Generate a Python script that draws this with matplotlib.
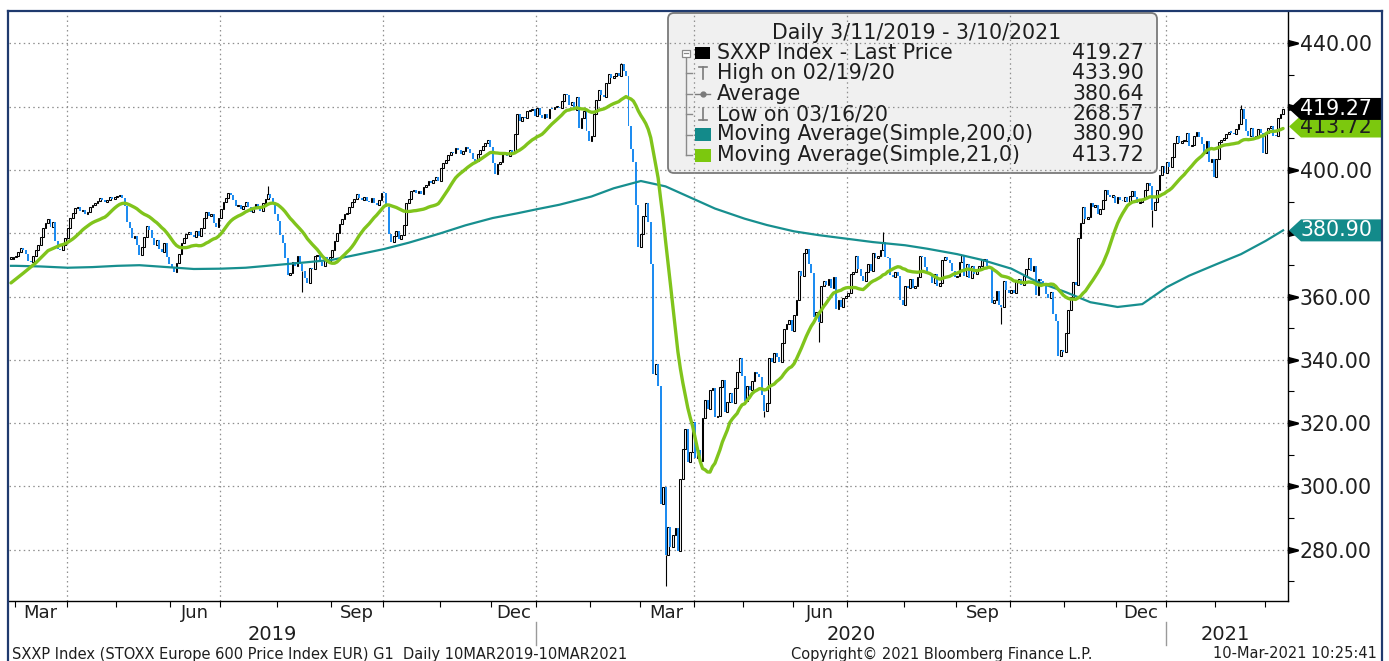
import numpy as np
import pandas as pd
import matplotlib
matplotlib.use("Agg")
import matplotlib.pyplot as plt
import matplotlib.transforms as mtransforms
from matplotlib.patches import Polygon, Rectangle, FancyBboxPatch
from matplotlib.lines import Line2D
from matplotlib.path import Path

plt.rcParams['font.family'] = ['DejaVu Sans']

# ---------------------------------------------------------------- data
HOLIDAYS = ["2019-04-19", "2019-04-22", "2019-05-01", "2019-12-24", "2019-12-25",
            "2019-12-26", "2019-12-31", "2020-01-01", "2020-04-10", "2020-04-13",
            "2020-05-01", "2020-12-24", "2020-12-25", "2020-12-31", "2021-01-01"]
LAST_DATE = "2021-03-10"

# daily closes, quarter by quarter
close_2019_q1 = [372.0, 372.5,
                 372.8, 374.0, 375.2, 374.6, 373.5, 371.2, 370.8, 372.8, 374.6, 376.2,
                 378.8, 381.5, 383.2, 384.5, 382.0, 383.4, 377.5, 375.0, 374.6, 376.2, 378.6]
close_2019_q2 = [381.5, 384.8, 386.4, 387.9, 388.3, 386.9, 387.4, 386.2, 386.8, 388.4,
                 389.0, 389.6, 390.2, 391.0, 390.4, 389.8, 390.6, 391.3, 390.8, 391.5,
                 391.8, 392.2, 391.0, 388.5, 383.6, 381.5, 378.5, 379.2, 376.4, 373.0, 375.8,
                 378.8, 382.2, 381.0, 378.5, 376.2, 377.8, 375.0, 374.2, 376.8, 372.6, 370.4,
                 369.0, 367.8, 370.5, 373.4, 376.8, 378.6, 379.8, 380.4, 379.4, 378.8,
                 380.8, 379.2, 381.6, 384.8, 386.6, 385.4, 386.2, 383.2, 382.0, 384.8]
close_2019_q3 = [387.6, 389.8, 391.0, 392.6, 392.0, 390.4, 388.7, 389.0, 387.6, 388.6, 389.9,
                 388.4, 386.8, 387.9, 389.2, 388.2, 387.0, 389.4, 390.8, 392.4, 391.0, 389.2, 386.0,
                 384.0, 379.5, 377.0, 372.2, 366.8, 367.5, 370.8, 369.6, 372.8, 370.4, 368.2,
                 366.0, 364.4, 369.0, 368.8, 372.8, 373.2, 370.8, 369.8, 372.5, 371.0, 372.4,
                 374.8, 377.4, 380.2, 382.8, 384.6, 386.0, 386.4, 388.2, 389.8, 390.8, 392.4,
                 391.2, 390.6, 391.4, 390.2, 389.8, 391.0, 389.5, 388.8, 390.6, 392.8]
close_2019_q4 = [392.6, 388.4, 379.6, 377.2, 379.0, 380.6, 378.2, 379.4, 382.6, 389.6, 390.8,
                 393.2, 393.6, 392.8, 393.4, 392.4, 394.6, 395.2, 396.4, 396.0, 396.8, 397.8, 396.6,
                 400.6, 402.2, 403.0, 404.8, 405.6, 405.2, 406.8, 406.2, 405.0, 406.0, 407.4,
                 406.6, 405.4, 403.6, 402.8, 405.0, 406.2, 407.6, 408.4, 409.6, 407.2,
                 402.2, 398.6, 401.8, 402.4, 405.4, 405.0, 404.4, 406.2, 405.8, 411.4, 417.8,
                 415.4, 416.8, 416.4, 418.6, 418.9, 419.4, 417.0]
close_2020_q1 = [419.6, 417.2, 416.5, 417.8, 416.4, 419.4, 419.2, 419.8, 420.0, 419.6, 421.8,
                 424.0, 423.6, 420.6, 421.4, 418.8, 423.2, 413.4, 416.4, 418.6, 412.2, 409.0,
                 410.8, 417.6, 422.0, 425.4, 423.6, 423.0, 427.4, 430.4, 429.0, 429.8, 430.6,
                 429.6, 433.6, 431.4, 429.6, 414.0, 406.6, 402.6, 389.0, 375.8,
                 379.6, 385.4, 389.4, 383.6, 370.2, 335.6, 338.8, 331.6, 294.4, 299.8, 278.4,
                 287.2, 280.8, 284.6, 286.8, 279.6, 302.4, 311.8, 318.2, 307.6, 310.8, 320.4]
close_2020_q2 = [309.0, 311.4, 308.0, 321.6, 327.2, 324.4, 330.6, 331.0, 322.0, 322.2, 331.4,
                 333.6, 323.4, 326.8, 329.4, 326.4, 331.2, 336.2, 340.6, 334.8,
                 327.0, 331.8, 330.6, 333.4, 336.2, 335.6, 334.6, 329.0, 323.8, 326.4, 340.6,
                 339.2, 342.2, 341.0, 339.4, 345.4, 349.8, 351.4, 352.6, 349.2,
                 354.2, 359.0, 368.2, 366.6, 373.6, 375.0, 370.2, 367.4, 353.4, 355.2, 351.8,
                 363.2, 364.8, 363.6, 365.4, 362.6, 366.2, 356.2, 358.8, 356.6, 359.4, 360.2]
close_2020_q3 = [361.2, 367.2, 367.8, 372.8, 368.6, 366.4, 364.8, 367.6, 370.4, 368.2, 373.8,
                 372.2, 372.8, 374.6, 377.2, 372.6, 372.2, 366.8, 366.2, 367.8, 366.6, 358.8, 357.2,
                 363.4, 362.6, 365.4, 362.8, 363.4, 366.2, 372.8, 372.4, 369.4, 367.0, 367.2,
                 364.2, 367.0, 363.4, 364.4, 371.6, 372.6, 371.4, 370.6, 368.2, 366.2,
                 366.4, 370.8, 373.0, 366.6, 370.2, 365.8, 369.6, 367.2, 368.4, 369.8, 371.4,
                 372.0, 369.8, 369.4, 357.8, 358.8, 361.6, 357.2, 356.8, 364.8, 362.2, 361.0]
close_2020_q4 = [362.0, 361.2, 364.6, 365.4, 363.8, 366.4, 368.6, 372.2, 368.2, 369.6, 360.4,
                 365.6, 365.0, 363.2, 360.8, 359.6, 361.4, 354.6, 352.2, 341.2, 343.0, 342.4,
                 348.4, 355.8, 360.0, 364.6, 363.8, 378.6, 383.2, 388.2, 384.6, 385.2, 389.4,
                 388.4, 389.0, 386.2, 387.8, 390.4, 393.6, 392.2, 391.6, 391.8, 389.4,
                 391.4, 390.6, 390.2, 391.6, 389.8, 391.8, 393.4, 391.6, 389.4, 389.8, 390.8,
                 393.8, 395.8, 395.0, 387.2, 390.0, 393.8, 398.4, 401.4, 399.0]
close_2021_q1 = [402.4, 400.8, 404.2, 408.4, 410.6, 408.6, 409.0, 409.2, 411.8, 407.6, 407.8,
                 410.6, 412.0, 410.4, 408.2, 405.4, 409.0, 402.4, 403.6, 397.8,
                 403.4, 408.8, 409.4, 410.0, 411.4, 412.0, 411.8, 411.2, 412.8, 414.6, 419.2,
                 416.0, 412.4, 410.8, 413.2, 410.4, 410.8, 413.0, 411.6, 405.2,
                 411.8, 413.2, 414.0, 410.8, 410.6, 416.4, 417.8, 419.27]

# visible wick extremes
wick_high = {"2020-02-19": 433.90, "2020-07-21": 380.4, "2021-02-15": 420.5,
             "2019-07-26": 395.0}
wick_low = {"2020-03-16": 268.57, "2019-08-15": 361.5, "2020-05-14": 322.0,
            "2020-09-25": 351.4, "2020-12-21": 382.0, "2020-06-15": 345.6}

# 21-day MA at the very start (needs history before the window)
ma21_head_dates = ["2019-02-27", "2019-03-06", "2019-03-13", "2019-03-20"]
ma21_head_values = [364.3, 367.4, 370.6, 374.5]

# 200-day MA
ma200_dates = ["2019-02-27", "2019-03-01", "2019-03-15", "2019-04-01", "2019-04-15", "2019-05-02",
               "2019-05-15", "2019-06-03", "2019-06-14", "2019-07-01", "2019-07-15", "2019-08-01",
               "2019-08-15", "2019-09-02", "2019-09-16", "2019-10-01", "2019-10-15", "2019-11-01",
               "2019-11-15", "2019-12-02", "2019-12-16",
               "2020-01-02", "2020-01-15", "2020-02-03", "2020-02-14", "2020-03-02", "2020-03-16",
               "2020-04-01", "2020-04-15", "2020-05-04", "2020-05-15", "2020-06-01", "2020-06-15",
               "2020-07-01", "2020-07-15", "2020-08-03", "2020-08-14", "2020-09-01", "2020-09-15",
               "2020-10-01", "2020-10-15", "2020-11-02", "2020-11-16", "2020-12-01", "2020-12-15",
               "2021-01-04", "2021-01-15", "2021-02-01", "2021-02-15", "2021-03-01", "2021-03-10"]
ma200_values = [369.7, 369.7, 369.5, 369.1, 369.3, 369.7, 369.9, 369.2, 368.7, 368.8, 369.1,
                370.0, 370.7, 371.6, 373.2, 375.0, 377.0, 380.0, 382.5, 384.8, 386.3,
                387.6, 389.0, 391.6, 394.2, 396.5, 394.8, 390.6, 387.8, 384.6, 382.6, 380.6,
                379.4, 378.2, 377.2, 376.2, 375.1, 373.4, 371.6, 368.8, 364.8, 361.4, 358.2,
                356.7, 357.6, 363.0, 366.6, 370.2, 373.4, 377.6, 380.9]

legend_title = "Daily 3/11/2019 - 3/10/2021"
legend_labels = ["SXXP Index - Last Price", "High on 02/19/20", "Average",
                 "Low on 03/16/20", "Moving Average(Simple,200,0)", "Moving Average(Simple,21,0)"]
legend_values = ["419.27", "433.90", "380.64", "268.57", "380.90", "413.72"]
tag_values = [380.90, 413.72, 419.27]
y_ticks = [280, 300, 320, 340, 360, 380, 400, 420, 440]
y_minor_ticks = [270, 290, 310, 330, 350, 370, 390, 410, 430]
footer_left = "SXXP Index (STOXX Europe 600 Price Index EUR) G1  Daily 10MAR2019-10MAR2021"
footer_mid = "Copyright\u00a9 2021 Bloomberg Finance L.P."
footer_right = "10-Mar-2021 10:25:41"

# ---------------------------------------------------------------- styles
W, H = 1389, 661
BLUE = "#1e8cf0"
GREEN = "#80c41c"
TEAL = "#178f8f"
TEAL_TAG = "#138a8a"
GREEN_TAG = "#7cc80e"
NAVY = "#1f3a6e"
TXT = "#1e1e1e"
GRID = "#8f8f8f"
FS = 14.8

close = np.array(close_2019_q1 + close_2019_q2 + close_2019_q3 + close_2019_q4 +
                 close_2020_q1 + close_2020_q2 + close_2020_q3 + close_2020_q4 +
                 close_2021_q1, dtype=float)
n = len(close)
dates = pd.bdate_range(end=LAST_DATE, periods=n, freq="C", holidays=HOLIDAYS)
idx = np.arange(n)


def loc(d):
    return int(dates.searchsorted(pd.Timestamp(d)))


fig = plt.figure(figsize=(W / 100, H / 100), dpi=100)
fig.patch.set_facecolor("white")
ax = fig.add_axes([9 / W, 1 - 601 / H, (1288 - 9) / W, (601 - 12) / H])
ax.set_facecolor("white")
ax.set_xlim(-0.8, n + 1.0)
ax.set_ylim(263.8, 449.9)
ID = mtransforms.IdentityTransform()

# gridlines
for v in y_ticks:
    ax.axhline(v, color=GRID, lw=0.9, ls=(0, (1.2, 2.6)), zorder=1)
months = dates.to_period("M")
starts = np.flatnonzero(np.r_[True, months[1:] != months[:-1]])[1:]
qstarts = [s for s in starts if dates[s].month in (1, 4, 7, 10)]
for s in qstarts:
    ax.axvline(s - 0.5, color=GRID, lw=0.9, ls=(0, (1.2, 2.6)), zorder=1)

# candles
opens = np.r_[close[0], close[:-1]]
up = close >= opens
bottom = np.minimum(opens, close)
height = np.maximum(np.abs(close - opens), 0.35)
for d, h in wick_high.items():
    i = loc(d)
    ax.vlines(i, max(opens[i], close[i]), h, color="black", lw=0.8, zorder=2.9)
for d, lo in wick_low.items():
    i = loc(d)
    ax.vlines(i, lo, min(opens[i], close[i]), color="black", lw=0.8, zorder=2.9)
ax.bar(idx[up], height[up], bottom=bottom[up], width=0.72, facecolor="#f4f4f4",
       edgecolor="black", linewidth=0.75, zorder=3)
ax.bar(idx[~up], height[~up], bottom=bottom[~up], width=0.8, color=BLUE,
       linewidth=0, zorder=3)

# moving averages
ma200_x = [loc(d) for d in ma200_dates]
ax.plot(ma200_x, ma200_values, color=TEAL, lw=1.6, zorder=4, solid_joinstyle="round")
ma21 = pd.Series(close).rolling(21).mean().to_numpy()
ma21_x = [loc(d) for d in ma21_head_dates] + list(idx[20:])
ma21_y = list(ma21_head_values) + list(ma21[20:])
ax.plot(ma21_x, ma21_y, color=GREEN, lw=2.4, zorder=5, solid_joinstyle="round",
        solid_capstyle="round")

# spines
for sp in ("left", "top"):
    ax.spines[sp].set_visible(False)
ax.spines["bottom"].set_color("black")
ax.spines["bottom"].set_linewidth(1.0)
ax.spines["right"].set_color("black")
ax.spines["right"].set_linewidth(1.0)

# x ticks (month starts)
ax.set_xticks(starts - 0.5)
ax.set_xticklabels([])
ax.tick_params(axis="x", length=4, width=0.8, direction="out", color="black")

# month / year labels
xpix = mtransforms.blended_transform_factory(ax.transData, ID)
for p in months.unique():
    sel = idx[months == p]
    if p.month in (3, 6, 9, 12) and len(sel) >= 15:
        ax.text(sel.mean(), H - 613, p.strftime("%b"), transform=xpix, ha="center",
                va="center", fontsize=13, color=TXT, clip_on=False)
years = dates.year
for yv in np.unique(years):
    sel = idx[years == yv]
    ax.text(sel.mean(), H - 634, str(yv), transform=xpix, ha="center", va="center",
            fontsize=14, color=TXT, clip_on=False)
for s in starts:
    if dates[s].month == 1:
        ax.add_line(Line2D([s - 0.5, s - 0.5], [H - 622, H - 645], transform=xpix,
                           color="#9a9a9a", lw=1.0, clip_on=False))

# right y axis
ax.yaxis.tick_right()
ax.set_yticks(y_ticks)
ax.set_yticklabels(["" if min(abs(v - t) for t in tag_values) < 4.5 else f"{v:.2f}"
                    for v in y_ticks])
ax.set_yticks(y_minor_ticks, minor=True)
ax.tick_params(axis="y", which="major", length=0, pad=8.5, labelsize=FS, labelcolor=TXT)
ax.tick_params(axis="y", which="minor", length=4, width=0.8, direction="out",
               color="black")
wedge = Path([(0, 0.30), (1, 0.04), (1, -0.04), (0, -0.30), (0, 0.30)])
ax.plot([1.0] * len(y_ticks), y_ticks, transform=ax.get_yaxis_transform(), ls="none",
        marker=wedge, markersize=14, color="black", clip_on=False, zorder=6)

# value tags on the right
yx = ax.get_yaxis_transform()
fx = lambda px: (px - 9) / (1288 - 9)
half = 11 / 3.165
tag_specs = [(tag_values[0], TEAL_TAG, "white"), (tag_values[1], GREEN_TAG, TXT),
             (tag_values[2], "black", "white")]
for k, (v, fc, tc) in enumerate(tag_specs):
    poly = Polygon([(fx(1289), v), (fx(1301), v + half), (fx(1381), v + half),
                    (fx(1381), v - half), (fx(1301), v - half)], closed=True,
                   transform=yx, facecolor=fc, edgecolor="none", clip_on=False,
                   zorder=10 + k)
    ax.add_patch(poly)
    ax.text(fx(1300), v, f"{v:.2f}", transform=yx, ha="left", va="center",
            fontsize=FS, color=tc, clip_on=False, zorder=10.5 + k)

# legend box
box = FancyBboxPatch((668, H - 173), 489, 160, boxstyle="round,pad=0,rounding_size=6",
                     transform=ID, facecolor="#f0f0f0", edgecolor="#7a7a7a", lw=1.3,
                     zorder=0.8, clip_on=False)
ax.add_patch(box)
ax.text(917, H - 33, legend_title, transform=ID, ha="center", va="center", fontsize=FS,
        color=TXT, zorder=7)
rows = [53, 73, 93.5, 114, 134.5, 155]
for r, lab, val in zip(rows, legend_labels, legend_values):
    ax.text(717, H - r, lab, transform=ID, ha="left", va="center", fontsize=FS,
            color=TXT, zorder=7)
    ax.text(1144, H - r, val, transform=ID, ha="right", va="center", fontsize=FS,
            color=TXT, zorder=7)
TREE = "#8a8a8a"
ax.add_line(Line2D([685.5, 685.5], [H - 56, H - rows[-1]], transform=ID, color=TREE,
                   lw=1.0, zorder=7))
for r in rows[1:]:
    ax.add_line(Line2D([685.5, 692], [H - r, H - r], transform=ID, color=TREE, lw=1.0,
                       zorder=7))
ax.add_patch(Rectangle((681.5, H - 56.5), 8, 7, transform=ID, facecolor="white",
                       edgecolor=TREE, lw=0.9, zorder=7.5, clip_on=False))
ax.add_line(Line2D([683.5, 687.5], [H - 53, H - 53], transform=ID, color=TREE, lw=0.9,
                   zorder=8))
ax.add_patch(Rectangle((695, H - 59), 15, 12, transform=ID, facecolor="black",
                       edgecolor="none", zorder=7, clip_on=False))
ICON = "#7a7a7a"
ax.add_line(Line2D([702.5, 702.5], [H - 67, H - 79], transform=ID, color=ICON, lw=1.2, zorder=7))
ax.add_line(Line2D([698.5, 706.5], [H - 67, H - 67], transform=ID, color=ICON, lw=1.2, zorder=7))
ax.add_line(Line2D([695, 710], [H - 93.5, H - 93.5], transform=ID, color=ICON, lw=1.0, zorder=7))
ax.add_line(Line2D([702.5], [H - 93.5], transform=ID, color=ICON, marker="o", markersize=3.5,
                   ls="none", zorder=7))
ax.add_line(Line2D([702.5, 702.5], [H - 108, H - 120], transform=ID, color=ICON, lw=1.2, zorder=7))
ax.add_line(Line2D([698.5, 706.5], [H - 120, H - 120], transform=ID, color=ICON, lw=1.2, zorder=7))
ax.add_patch(Rectangle((695, H - 141), 16, 13, transform=ID, facecolor=TEAL_TAG,
                       edgecolor="none", zorder=7, clip_on=False))
ax.add_patch(Rectangle((695, H - 161.5), 16, 13, transform=ID, facecolor=GREEN_TAG,
                       edgecolor="none", zorder=7, clip_on=False))

# outer border
for xs, ys in (([8, 8], [11, 661]), ([8, 1382], [11, 11]), ([1382, 1382], [11, 661])):
    fig.add_artist(Line2D(xs, [H - y for y in ys], transform=ID, color=NAVY, lw=1.6))

# footer
fig.text(12 / W, 1 - 654 / H, footer_left, ha="left", va="center", fontsize=10.5, color=TXT)
fig.text(942 / W, 1 - 654 / H, footer_mid, ha="center", va="center", fontsize=10.5, color=TXT)
fig.text(1377 / W, 1 - 654 / H, footer_right, ha="right", va="center", fontsize=10.5, color=TXT)

fig.savefig("out.png", dpi=100, facecolor="white")
